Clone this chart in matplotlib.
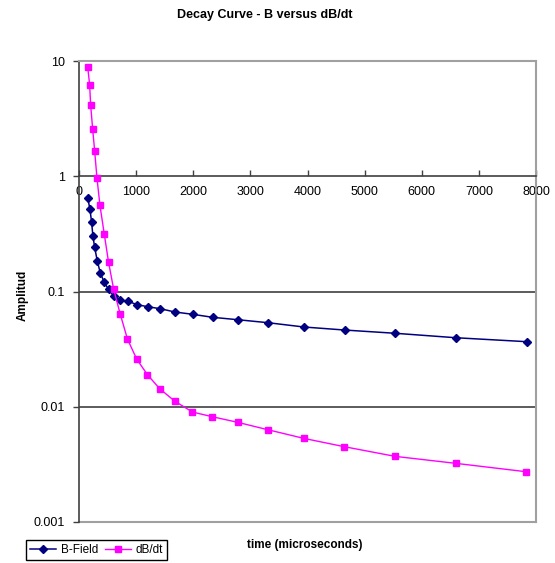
import matplotlib
matplotlib.use("Agg")
import matplotlib.pyplot as plt
from matplotlib.ticker import FixedLocator, FixedFormatter, NullLocator

plt.rcParams['font.family'] = ['Liberation Sans', 'DejaVu Sans']

# Data
t_b = [152, 192, 221, 244, 274, 319, 371, 441, 517, 605, 726, 854, 1023, 1202,
       1423, 1678, 1991, 2340, 2782, 3310, 3937, 4652, 5535, 6597, 7834]
b_field = [0.651, 0.516, 0.398, 0.301, 0.242, 0.185, 0.146, 0.120, 0.1045, 0.0914,
           0.0839, 0.0822, 0.0768, 0.0738, 0.0709, 0.0664, 0.0634, 0.0597, 0.0569,
           0.0536, 0.0492, 0.0463, 0.0434, 0.0397, 0.0367]

t_d = [152, 186, 204, 239, 274, 314, 366, 441, 517, 605, 720, 848, 1010, 1197,
       1411, 1672, 1986, 2330, 2776, 3305, 3932, 4646, 5535, 6591, 7828]
dbdt = [8.93, 6.23, 4.15, 2.57, 1.66, 0.973, 0.563, 0.318, 0.180, 0.1057, 0.0641,
        0.0387, 0.0259, 0.0190, 0.01436, 0.01122, 0.00900, 0.0082, 0.00733, 0.00632,
        0.00532, 0.00450, 0.00371, 0.00323, 0.00273]

x_ticks = [0, 1000, 2000, 3000, 4000, 5000, 6000, 7000, 8000]
y_ticks = [0.001, 0.01, 0.1, 1, 10]
y_labels = ["0.001", "0.01", "0.1", "1", "10"]

W, H = 555, 563
fig = plt.figure(figsize=(W / 100, H / 100), dpi=100)
left, right, top, bottom = 79, 536, 61, 522
ax = fig.add_axes([left / W, 1 - bottom / H, (right - left) / W, (bottom - top) / H])

ax.set_yscale('log')
ax.set_xlim(0, 8000)
ax.set_ylim(0.001, 10)

# gridlines at decades
for yv in [0.01, 0.1]:
    ax.axhline(yv, color='#404040', lw=1.2, zorder=1)
ax.axhline(0.001, color='#a0a0a0', lw=1.5, zorder=1, clip_on=False)

ax.plot(t_b, b_field, color='#000080', marker='D', markersize=4.2, lw=1.1,
        label='B-Field', zorder=3)
ax.plot(t_d, dbdt, color='#FF00FF', marker='s', markersize=4.8, lw=1.0,
        label='dB/dt', zorder=3)

# spines
ax.spines['bottom'].set_position(('data', 1))
ax.spines['bottom'].set_color('#404040')
ax.spines['bottom'].set_linewidth(1.2)
ax.spines['left'].set_color('#404040')
ax.spines['left'].set_linewidth(1.2)
for s in ['top', 'right']:
    ax.spines[s].set_color('#a0a0a0')
    ax.spines[s].set_linewidth(1.5)

ax.xaxis.set_major_locator(FixedLocator(x_ticks))
ax.set_xticklabels([str(v) for v in x_ticks])
ax.yaxis.set_major_locator(FixedLocator(y_ticks))
ax.yaxis.set_major_formatter(FixedFormatter(y_labels))
ax.yaxis.set_minor_locator(NullLocator())
ax.xaxis.set_minor_locator(NullLocator())

ax.tick_params(axis='x', direction='in', length=4, width=1, color='#404040',
               labelsize=9, pad=7, labelcolor='black')
ax.tick_params(axis='y', direction='out', length=4, width=1, color='#404040',
               labelsize=9, pad=6)

fig.text(265 / W, 1 - 15 / H, 'Decay Curve - B versus dB/dt', ha='center', va='center',
         fontsize=9, fontweight='bold')
fig.text(305 / W, 1 - 545 / H, 'time (microseconds)', ha='center', va='center',
         fontsize=8.5, fontweight='bold')
fig.text(23 / W, 1 - 295 / H, 'Amplitud', ha='center', va='center', rotation=90,
         fontsize=8.5, fontweight='bold')

leg = fig.legend(loc='upper left', bbox_to_anchor=(26 / W, 1 - 540 / H), ncol=2,
                 fancybox=False, edgecolor='black', framealpha=1, fontsize=8.5,
                 borderaxespad=0, handlelength=2.2, columnspacing=0.6,
                 handletextpad=0.4, borderpad=0.35)
leg.get_frame().set_linewidth(1.0)

fig.savefig('out.png', dpi=100)
